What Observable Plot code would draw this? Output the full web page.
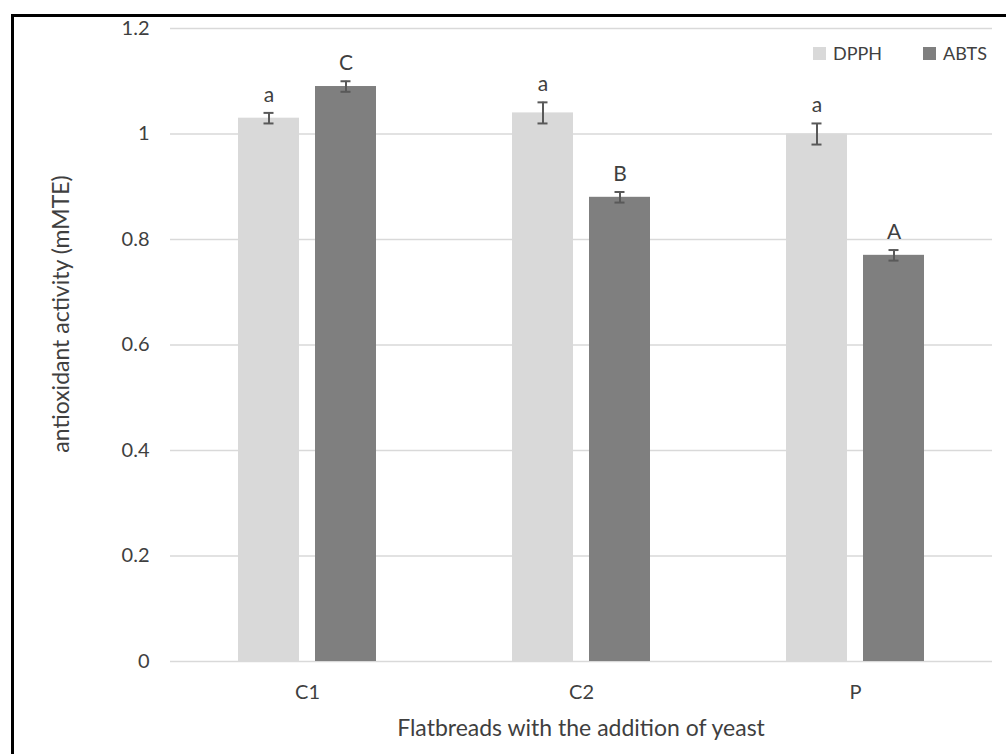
<!DOCTYPE html>
<html>
<head>
<meta charset="utf-8">
<script src="https://cdn.jsdelivr.net/npm/d3@7"></script>
<script src="https://cdn.jsdelivr.net/npm/@observablehq/plot@0.6"></script>
<style>
  html, body { margin: 0; padding: 0; background: #fff; }
  #wrap { position: relative; width: 1006px; height: 754px; overflow: hidden; font-family: Lato, "Open Sans", sans-serif; }
  #frame { position: absolute; left: 11px; top: 14px; width: 1100px; height: 900px; border-left: 3px solid #000; border-top: 3px solid #000; pointer-events: none; }
  #legend { position: absolute; left: 813px; top: 42px; display: flex; align-items: center; font-size: 18px; color: #404040; }
  .item { display: flex; align-items: center; }
  .sw { width: 13px; height: 13px; margin-right: 7px; }
</style>
</head>
<body>
<div id="wrap">
  <div id="chart"></div>
  <div id="legend"></div>
  <div id="frame"></div>
</div>
<script>
const categories = ["C1", "C2", "P"];
const series = ["DPPH", "ABTS"];
const seriesColors = ["#d9d9d9", "#7f7f7f"];
const dpphValues = [1.03, 1.04, 1.00];
const dpphErrors = [0.01, 0.02, 0.02];
const dpphLetters = ["a", "a", "a"];
const abtsValues = [1.09, 0.88, 0.77];
const abtsErrors = [0.01, 0.01, 0.01];
const abtsLetters = ["C", "B", "A"];
const yTicks = [0, 0.2, 0.4, 0.6, 0.8, 1, 1.2];
const yTickLabels = ["0", "0.2", "0.4", "0.6", "0.8", "1", "1.2"];
const xTitle = "Flatbreads with the addition of yeast";
const yTitle = "antioxidant activity (mMTE)";

const rows = [];
categories.forEach((c, i) => {
  rows.push({cat: c, series: "DPPH", value: dpphValues[i], err: dpphErrors[i], letter: dpphLetters[i]});
  rows.push({cat: c, series: "ABTS", value: abtsValues[i], err: abtsErrors[i], letter: abtsLetters[i]});
});
rows.forEach(d => { d.lo = d.value - d.err; d.hi = d.value + d.err; });

const errColor = "#595959";
const textColor = "#3f3f3f";
const W = 1006, H = 754;
const chart = Plot.plot({
  width: W,
  height: H,
  marginLeft: 169,
  marginRight: 13,
  marginTop: 28,
  marginBottom: 93,
  style: {fontFamily: "Lato, 'Open Sans', sans-serif", fontSize: "20px", color: textColor, background: "transparent"},
  fx: {domain: categories, padding: 0, label: null, tickSize: 0, tickPadding: 23},
  x: {domain: series, paddingInner: 0.205, paddingOuter: 0.865, axis: null},
  y: {domain: [0, 1.2], ticks: yTicks, tickFormat: (d) => yTickLabels[yTicks.indexOf(d)], tickSize: 0, tickPadding: 21, label: null},
  color: {domain: series, range: seriesColors},
  marks: [
    Plot.ruleY(yTicks, {stroke: "#d9d9d9", strokeWidth: 1.3}),
    Plot.barY(rows, {fx: "cat", x: "series", y: "value", fill: "series"}),
    Plot.ruleX(rows, {fx: "cat", x: "series", y1: "lo", y2: "hi", stroke: errColor, strokeWidth: 2}),
    Plot.tickY(rows, {fx: "cat", x: "series", y: "lo", stroke: errColor, strokeWidth: 2, insetLeft: 25.5, insetRight: 25.5}),
    Plot.tickY(rows, {fx: "cat", x: "series", y: "hi", stroke: errColor, strokeWidth: 2, insetLeft: 25.5, insetRight: 25.5}),
    Plot.text(rows, {fx: "cat", x: "series", y: "hi", text: "letter", dy: -11, lineAnchor: "bottom", fill: textColor, fontSize: 21})
  ]
});
document.getElementById("chart").appendChild(chart);

// axis titles
const svg = d3.select(chart);
svg.append("text")
  .attr("x", 581).attr("y", 736)
  .attr("text-anchor", "middle")
  .attr("font-size", 23).attr("fill", textColor)
  .text(xTitle);
svg.append("text")
  .attr("transform", "translate(69,314) rotate(-90)")
  .attr("text-anchor", "middle")
  .attr("font-size", 23).attr("fill", textColor)
  .text(yTitle);

const legend = document.getElementById("legend");
series.forEach((s, i) => {
  const item = document.createElement("div");
  item.className = "item";
  item.style.marginRight = i === 0 ? "41px" : "0";
  const sw = document.createElement("div");
  sw.className = "sw";
  sw.style.background = seriesColors[i];
  const t = document.createElement("span");
  t.textContent = s;
  item.appendChild(sw);
  item.appendChild(t);
  legend.appendChild(item);
});
</script>
</body>
</html>
